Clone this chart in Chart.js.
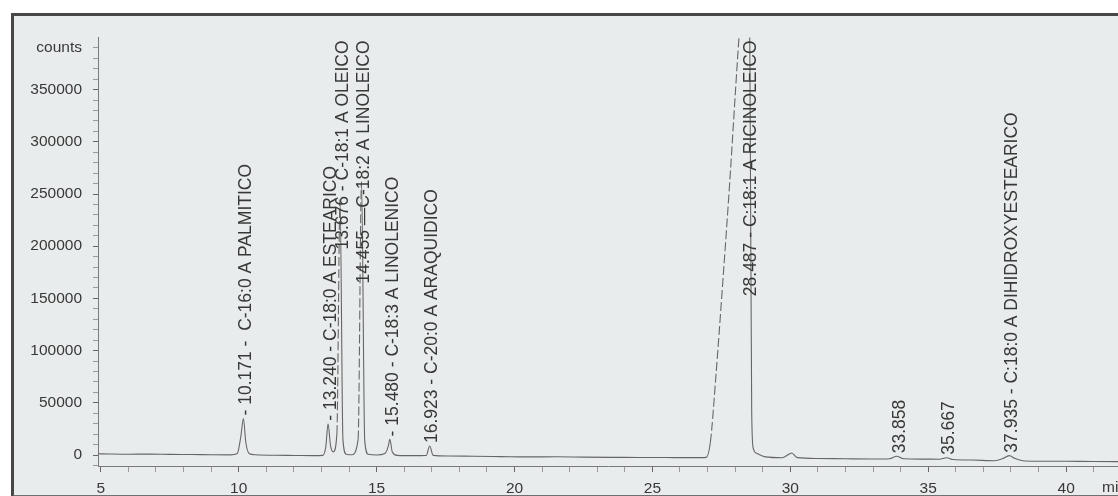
<!DOCTYPE html>
<html>
<head>
<meta charset="utf-8">
<title>Cromatograma</title>
<script src="https://cdn.jsdelivr.net/npm/chart.js@4.4.1/dist/chart.umd.min.js"></script>
<style>
  html, body { margin: 0; padding: 0; background: #ffffff; width: 1118px; height: 496px; overflow: hidden; }
  #frame {
    position: absolute; left: 11px; top: 13px; width: 1200px; height: 479px;
    border-left: 3px solid #474747; border-top: 3px solid #474747; border-bottom: 2px solid #707070;
    background: #e9ecec;
  }
  #wrap { position: absolute; left: 0; top: 0; width: 1118px; height: 496px; }
</style>
</head>
<body>
<div id="frame"></div>
<div id="wrap"><canvas id="chrom" width="1118" height="496"></canvas></div>
<script>
// Retention time (min) and detector response (counts) of the trace
const retentionTimes = [
  4.9, 5.3, 6.0, 6.8, 7.5, 8.3, 9.0, 9.7, 9.95, 10.08, 10.171, 10.26, 10.38, 10.6,
  11.3, 12.0, 12.7, 13.05, 13.16, 13.24, 13.33, 13.43, 13.56, 13.676, 13.78, 13.9,
  14.1, 14.33, 14.455, 14.57, 14.7, 15.0, 15.3, 15.42, 15.48, 15.57, 15.75, 16.3,
  16.8, 16.923, 17.05, 17.6, 18.5, 19.5, 20.5, 21.5, 22.5, 23.5, 24.5, 25.5, 26.5,
  26.95, 27.1, 27.3, 27.55, 27.8, 28.1, 28.3, 28.487, 28.55, 28.6, 28.66, 28.8,
  29.1, 29.7, 29.95, 30.05, 30.25, 31.0, 32.0, 33.0, 33.6, 33.858, 34.1, 34.8,
  35.4, 35.667, 35.9, 36.6, 37.4, 37.7, 37.935, 38.15, 38.5, 39.2, 40.0, 41.0, 41.88
];
const counts = [
  1200, 1000, 800, 900, 600, 500, 300, 200, 1500, 18000, 35000, 12000, 1500, 300,
  -200, -400, -600, -300, 8000, 30000, 9000, 3000, 20000, 245000, 15000, 800,
  300, 15000, 262000, 14000, 700, 0, 1500, 8000, 15000, 3000, -300, -600,
  -400, 8600, -300, -900, -1200, -1500, -1800, -1700, -2000, -2200, -2300, -2400, -2500,
  -2200, 12000, 75000, 165000, 260000, 385000, 460000, 540000, 300000, 40000, 6000, 1500,
  -1800, -2600, 800, 2000, -2500, -3300, -3600, -3800, -3500, -1200, -3600, -3900,
  -4000, -2600, -4300, -4800, -5400, -3400, -600, -3400, -5700, -5900, -6000, -6200, -6300
];

// Integrated peaks and their annotations
const peakTimes = [10.171, 13.240, 13.676, 14.455, 15.480, 16.923, 28.487, 33.858, 35.667, 37.935];
const peakNames = [
  '- 10.171 -  C-16:0 A PALMITICO',
  '- 13.240 - C-18:0 A ESTEARICO',
  '13.676 - C-18:1 A OLEICO',
  '14.455 \u2014C-18:2 A LINOLEICO',
  '- 15.480 - C-18:3 A LINOLENICO',
  '16.923 - C-20:0 A ARAQUIDICO',
  '28.487 - C:18:1 A RICINOLEICO',
  '33.858',
  '35.667',
  '37.935 - C:18:0 A DIHIDROXYESTEARICO'
];

// Axis ticks
const xTickLabels = [5, 10, 15, 20, 25, 30, 35, 40];
const yTickLabels = [0, 50000, 100000, 150000, 200000, 250000, 300000, 350000];
const xUnit = 'min';
const yUnit = 'counts';

const X_MIN = 4.9, X_MAX = 41.88, Y_MIN = -10500, Y_MAX = 400000;
const Y_UNIT_AT = 390000;
const TEXT = '#383838';
const FONT = '"Liberation Sans", Arial, sans-serif';

const tracePoints = retentionTimes.map((t, i) => ({ x: t, y: counts[i] }));

// steep rising flanks are drawn broken, as the recorder plots them
const risingDash = (c) => (c.p0.parsed.y < c.p1.parsed.y && (c.p0.y - c.p1.y) > 60) ? [9, 3] : undefined;

const peakLabelPlugin = {
  id: 'peakLabels',
  afterDatasetsDraw(chart) {
    const { ctx, chartArea, scales: { x, y } } = chart;
    ctx.save();
    ctx.font = '17.5px ' + FONT;
    ctx.fillStyle = TEXT;
    ctx.textAlign = 'left';
    ctx.textBaseline = 'middle';
    peakTimes.forEach((t, i) => {
      const apex = counts[retentionTimes.indexOf(t)];
      const px = x.getPixelForValue(t) + 3;
      const w = ctx.measureText(peakNames[i]).width;
      let base = y.getPixelForValue(Math.min(apex, Y_MAX)) - 3;
      if (base - w < chartArea.top + 3) base = chartArea.top + 3 + w;
      ctx.save();
      ctx.translate(px, base);
      ctx.rotate(-Math.PI / 2);
      ctx.fillText(peakNames[i], 0, 0);
      ctx.restore();
    });
    ctx.restore();
  }
};

const unitLabelPlugin = {
  id: 'unitLabel',
  afterDraw(chart) {
    const { ctx, chartArea } = chart;
    ctx.save();
    ctx.font = '15.5px ' + FONT;
    ctx.fillStyle = TEXT;
    ctx.textAlign = 'left';
    ctx.textBaseline = 'middle';
    ctx.fillText(xUnit, 1102, chartArea.bottom + 22);
    ctx.restore();
  }
};

new Chart(document.getElementById('chrom'), {
  type: 'line',
  data: {
    datasets: [{
      data: tracePoints,
      borderColor: '#666666',
      borderWidth: 1.1,
      pointRadius: 0,
      cubicInterpolationMode: 'monotone',
      fill: false,
      segment: { borderDash: risingDash }
    }]
  },
  options: {
    responsive: false,
    animation: false,
    events: [],
    layout: { padding: { top: 37.4, left: 0, right: 0, bottom: 0 } },
    plugins: { legend: { display: false }, tooltip: { enabled: false } },
    scales: {
      x: {
        type: 'linear',
        min: X_MIN,
        max: X_MAX,
        afterBuildTicks(scale) {
          const t = [];
          for (let v = 5; v <= 41; v++) t.push({ value: v });
          scale.ticks = t;
        },
        afterFit(scale) { scale.height = 30; },
        ticks: {
          autoSkip: false,
          maxRotation: 0,
          padding: 7,
          color: TEXT,
          font: { family: FONT, size: 15.5 },
          callback: (v) => xTickLabels.includes(v) ? String(v) : ''
        },
        grid: {
          drawOnChartArea: false,
          drawTicks: true,
          tickLength: 6,
          tickColor: (c) => (c.tick && xTickLabels.includes(c.tick.value)) ? '#666' : '#9a9a9a'
        },
        border: { display: true, color: '#7a7a7a', width: 1 }
      },
      y: {
        type: 'linear',
        min: Y_MIN,
        max: Y_MAX,
        afterBuildTicks(scale) {
          const t = [];
          for (let v = -10000; v <= Y_UNIT_AT; v += 10000) t.push({ value: v });
          scale.ticks = t;
        },
        afterFit(scale) { scale.width = 98; },
        ticks: {
          autoSkip: false,
          padding: 11,
          color: TEXT,
          font: { family: FONT, size: 15.5 },
          callback: (v) => yTickLabels.includes(v) ? String(v) : (v === Y_UNIT_AT ? yUnit : '')
        },
        grid: {
          drawOnChartArea: false,
          drawTicks: true,
          tickLength: 5,
          tickColor: (c) => (c.tick && yTickLabels.includes(c.tick.value)) ? '#666' : '#9a9a9a'
        },
        border: { display: true, color: '#7a7a7a', width: 1 }
      }
    }
  },
  plugins: [peakLabelPlugin, unitLabelPlugin]
});
</script>
</body>
</html>
